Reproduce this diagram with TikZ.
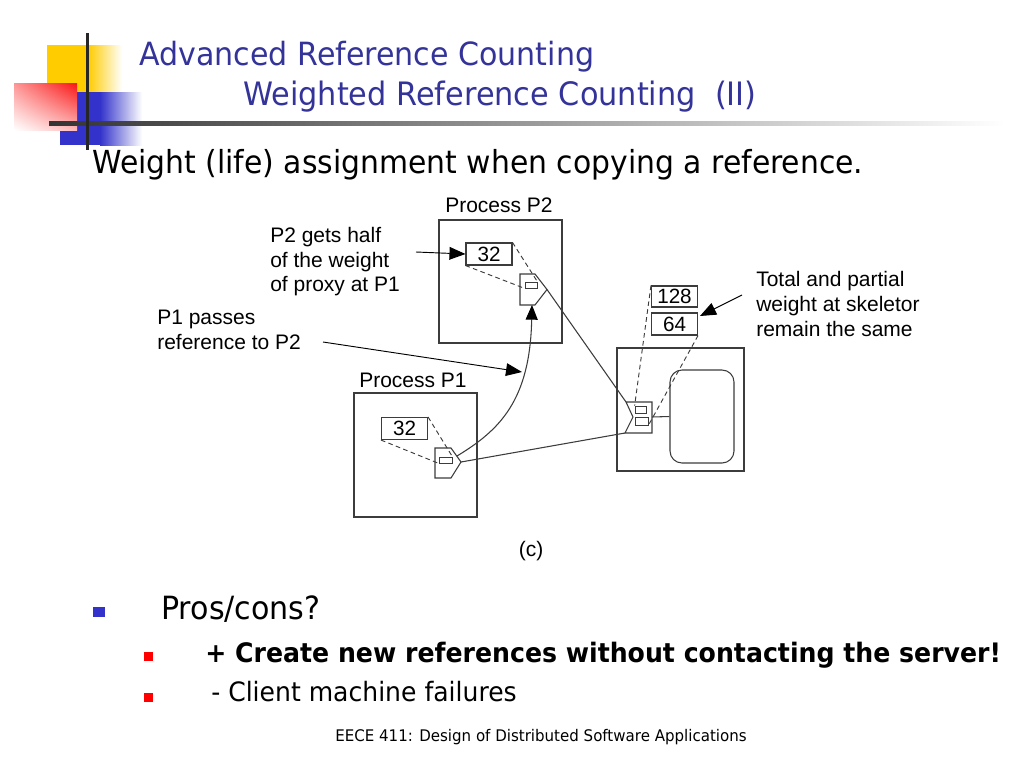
\documentclass[tikz,border=0pt]{standalone}
\usepackage{fontspec}
\newfontfamily\tahoma[FakeStretch=0.94]{DejaVu Sans}
\newfontfamily\arial{Liberation Sans}
\usepackage{tikz}
\usetikzlibrary{arrows.meta,shadings}
\definecolor{titleblue}{RGB}{51,51,153}
\definecolor{logoyellow}{RGB}{255,204,0}
\definecolor{logoblue}{RGB}{51,51,204}
\definecolor{logored}{RGB}{250,20,20}
\definecolor{linegray}{RGB}{60,60,60}

\begin{document}
\begin{tikzpicture}[x=0.75pt,y=0.75pt,yscale=-1,xscale=1,
  procbox/.style={draw=linegray, line width=0.8pt, inner sep=0pt},
  slot/.style={procbox, line width=0.55pt},
  wbox/.style={procbox, minimum width=34.5pt, minimum height=16.5pt, font=\arial\fontsize{15.5}{18}\selectfont},
  lbl/.style={inner sep=0pt, align=left, font=\arial\fontsize{15.75}{18.4}\selectfont},
  slide/.style={inner sep=0pt, anchor=base west, font=\tahoma},
  ref/.style={draw=linegray, line width=0.7pt, dash pattern=on 3.5pt off 2.5pt},
  wire/.style={draw=linegray, line width=0.8pt},
  pointer/.style={draw=black, line width=0.7pt, -{Triangle[length=12pt,width=9.5pt]}}
]
\useasboundingbox (0,0) rectangle (1024,768);

%Shape: Logo squares
\fill[logoyellow] (47,45) rectangle (88,92);
\shade[left color=logoyellow, right color=white] (88,45) rectangle (122,92);
\fill[logoblue] (60,92) rectangle (100,145);
\shade[left color=logoblue, right color=white] (100,92) rectangle (142,145);
\shade[upper left=logored!45, upper right=logored, lower left=white, lower right=logored!30] (14,83) rectangle (77,130);
%Straight Lines: logo rules
\shade[left color=black!80, middle color=black!65, right color=white] (49,121) rectangle (1005,125);
\fill[black!85] (85.5,33) rectangle (88.5,150);

% Text Node: title
\node[slide, text=titleblue, font=\tahoma\fontsize{24}{28}\selectfont] (title) at (139,65) {Advanced Reference Counting};
\node[slide, text=titleblue, font=\tahoma\fontsize{24.2}{28}\selectfont] (subtitle) at (243,105) {Weighted Reference Counting\ \ (II)};
\node[slide, font=\tahoma\fontsize{23.8}{27}\selectfont] (lead) at (92,173) {Weight (life) assignment when copying a reference.};

%Shape: Processes and skeleton
\node[procbox, minimum width=92.25pt, minimum height=92.25pt] (pTwo) at (500.5,281.5) {};
\node[procbox, minimum width=92.25pt, minimum height=93pt] (pOne) at (415.5,455) {};
\node[procbox, minimum width=95.25pt, minimum height=92.25pt] (skel) at (680.5,409.5) {};
\node[procbox, rounded corners=9pt, minimum width=48pt, minimum height=69.75pt] (obj) at (702,416.5) {};

% Text Node: captions
\node[lbl, anchor=base] (capTwo) at (499,212) {Process P2};
\node[lbl, anchor=base] (capOne) at (413,387) {Process P1};
\node[lbl, anchor=base] (capC) at (531,556) {(c)};

%Shape: weight boxes
\node[wbox] (wTwo) at (489,254) {32};
\node[wbox] (wOne) at (404.5,428.5) {32};
\node[wbox, minimum height=15.75pt] (wTotal) at (674.5,296.5) {128};
\node[wbox] (wPart) at (674.5,324) {64};

%Shape: proxies
\draw[wire] (520,274) -- (535,274) -- (547,289.5) coordinate (tipTwo) -- (535,305) -- (520,305) -- cycle;
\draw[wire] (435,448) -- (451,448) -- (461,462) coordinate (tipOne) -- (451,478) -- (435,478) -- cycle;
\coordinate (footTwo) at (532,305);
\coordinate (outOne) at (457,456);
\node[slot, minimum width=9pt, minimum height=4.5pt] (sTwo) at (531,285) {};
\node[slot, minimum width=9.75pt, minimum height=4.5pt] (sOne) at (445.5,460) {};

%Shape: skeleton
\draw[wire] (626,402) coordinate (skTop) -- (652,402) -- (652,433) -- (625,433) coordinate (skBot) -- (633,417) -- cycle;
\coordinate (skOut) at (652,417);
\node[slot, minimum width=8.25pt, minimum height=5.25pt] (kA) at (640.5,409.5) {};
\node[slot, minimum width=9.75pt, minimum height=6pt] (kB) at (641.5,421) {};

%Straight Lines: dashed references
\draw[ref] (wTwo.north east) -- (sTwo.north east);
\draw[ref] (wTwo.south west) -- (sTwo.south west);
\draw[ref] (wOne.north east) -- (sOne.north east);
\draw[ref] (wOne.south west) -- (sOne.south west);
\draw[ref] (wTotal.north west) -- (kA.north west);
\draw[ref] (wPart.south east) -- (kB.south east);

%Straight Lines: wires
\draw[wire] (tipTwo) -- (skTop);
\draw[wire] (tipOne) -- (skBot);
\draw[wire] (skOut) -- (obj.west);
%Curve Lines: passed reference
\draw[wire, -{Triangle[length=11pt,width=9pt,color=black]}] (outOne) .. controls (500,430) and (530,400) .. (footTwo);

% Text Node: notes
\node[lbl, anchor=west] (gets) at (270,262) {P2 gets half\\of the weight\\of proxy at P1};
\node[lbl, anchor=west] (pass) at (157,330) {P1 passes\\reference to P2};
\node[lbl, anchor=west] (total) at (756,304) {Total and partial\\weight at skeletor\\remain the same};
\coordinate (getsEnd) at (416,252);
\coordinate (passEnd) at (323,342);
\coordinate (passTip) at (522,372);
\coordinate (totalEnd) at (742,295);
\coordinate (totalTip) at (700,316);
\draw[pointer] (getsEnd) -- (wTwo.west);
\draw[pointer] (passEnd) -- (passTip);
\draw[pointer] (totalEnd) -- (totalTip);

% Text Node: bullets
\node[fill=logoblue, inner sep=0pt, minimum width=9pt, minimum height=7.5pt] (bA) at (99,612) {};
\node[slide, font=\tahoma\fontsize{24}{28}\selectfont] (pros) at (161,619) {Pros/cons?};
\node[fill=red, inner sep=0pt, minimum size=6.75pt] (bB) at (148.5,656.5) {};
\node[slide, font=\tahoma\bfseries\fontsize{20.1}{23}\selectfont] (plus) at (205,662) {+ Create new references without contacting the server!};
\node[fill=red, inner sep=0pt, minimum size=6.75pt] (bC) at (148.5,697.5) {};
\node[slide, font=\tahoma\fontsize{20}{23}\selectfont] (minus) at (211,701) {- Client machine failures};
\node[slide, anchor=base, font=\tahoma\fontsize{12}{14}\selectfont] (foot) at (541,741) {EECE 411: Design of Distributed Software Applications};

\end{tikzpicture}
\end{document}
